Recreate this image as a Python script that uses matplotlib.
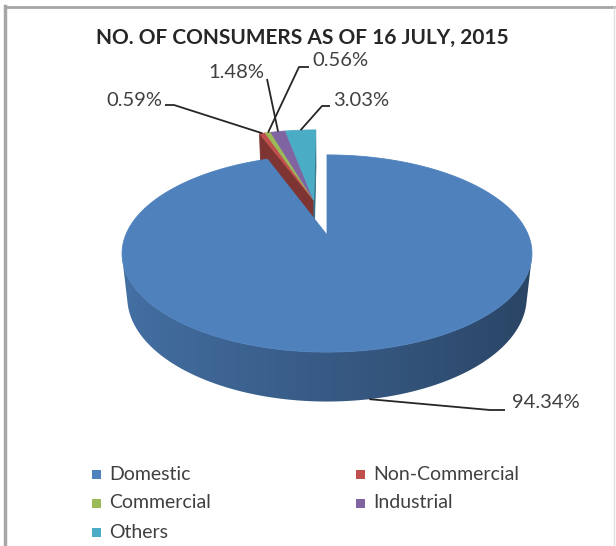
import numpy as np
import matplotlib.pyplot as plt
from matplotlib.patches import Polygon, Rectangle
from matplotlib.colors import to_rgb

plt.rcParams['font.family'] = ['Lato', 'DejaVu Sans']

# =========================
# data
# =========================
categories = ["Domestic", "Non-Commercial", "Commercial", "Industrial", "Others"]
shares = [94.34, 0.59, 0.56, 1.48, 3.03]
colors = ["#4F81BD", "#C0504D", "#9BBB59", "#8064A2", "#4BACC6"]
title = "NO. OF CONSUMERS AS OF 16 JULY, 2015"

# =========================
# 3d view of the pie
# =========================
ELEV = np.radians(28.2)
DIST = 4.695
SCALE = 945.0
CX, CY = 327.0, 235.0
THICK = 0.25
EXPLODE = 0.40
CAM = np.array([0.0, -DIST * np.cos(ELEV), DIST * np.sin(ELEV)])


def project(x, y, z):
    depth = DIST + y * np.cos(ELEV) - z * np.sin(ELEV)
    u = x / depth
    w = (y * np.sin(ELEV) + z * np.cos(ELEV)) / depth
    return CX + SCALE * u, CY - SCALE * w


def facing(p, n):
    return np.dot(n, CAM - p) > 0


def shade(c, f):
    return tuple(np.clip(np.array(to_rgb(c)) * f, 0, 1))


def wall_light(a):
    # light comes from the front left
    return 0.70 - 0.18 * np.cos(a)


# slice angles, clockwise from 12 o'clock
cum = np.concatenate([[0], np.cumsum(shares)]) / sum(shares) * 360
start = 90 - cum[:-1]
end = 90 - cum[1:]
mid = (start + end) / 2

# the small slices are pulled out together
group_mid = np.radians((start[1] + end[-1]) / 2)
offsets = [(0.0, 0.0)] + [(EXPLODE * np.cos(group_mid), EXPLODE * np.sin(group_mid))] * 4
pieces = [[1, 2, 3, 4], [0]]   # far group first

fig = plt.figure(figsize=(6.16, 5.46), dpi=100)
ax = fig.add_axes([0, 0, 1, 1])
ax.axis("off")


def poly(pts, color, z):
    ax.add_patch(Polygon(pts, closed=True, facecolor=color, edgecolor=color,
                         linewidth=0.6, zorder=z))


def arc_of(i):
    n = max(3, int(abs(end[i] - start[i]) * 2))
    return np.radians(np.linspace(start[i], end[i], n))


z = 1
for piece in pieces:
    ox, oy = offsets[piece[0]]

    # curved outer wall, shaded left to right
    for i in piece:
        seen = [a for a in arc_of(i)
                if facing(np.array([ox + np.cos(a), oy + np.sin(a), -THICK / 2]),
                          np.array([np.cos(a), np.sin(a), 0]))]
        if len(seen) < 2:
            continue
        top = [project(ox + np.cos(a), oy + np.sin(a), 0) for a in seen]
        bot = [project(ox + np.cos(a), oy + np.sin(a), -THICK) for a in seen]
        outline = Polygon(top + bot[::-1], closed=True, facecolor="none",
                          edgecolor="none", zorder=z)
        ax.add_patch(outline)
        xs = np.array([p[0] for p in top])
        light = np.array([wall_light(a) for a in seen])
        order = np.argsort(xs)
        x0, x1 = xs.min() - 2, xs.max() + 2
        y0 = min(p[1] for p in top) - 2
        y1 = max(p[1] for p in bot) + 2
        cols = np.linspace(x0, x1, 400)
        f = np.interp(cols, xs[order], light[order])
        img = np.array([shade(colors[i], v) for v in f])[None, :, :].repeat(2, axis=0)
        im = ax.imshow(img, extent=(x0, x1, y1, y0), aspect="auto",
                       interpolation="bilinear", zorder=z)
        im.set_clip_path(outline)
    z += 1

    # flat side walls at both outer edges of the piece
    for i, ang, turn in [(piece[0], start[piece[0]], 90), (piece[-1], end[piece[-1]], -90)]:
        a = np.radians(ang)
        n = np.array([np.cos(a + np.radians(turn)), np.sin(a + np.radians(turn)), 0])
        p = np.array([ox + 0.5 * np.cos(a), oy + 0.5 * np.sin(a), -THICK / 2])
        if not facing(p, n):
            continue
        quad = [project(ox, oy, 0),
                project(ox + np.cos(a), oy + np.sin(a), 0),
                project(ox + np.cos(a), oy + np.sin(a), -THICK),
                project(ox, oy, -THICK)]
        poly(quad, shade(colors[i], 0.65), z)
    z += 1

    # top faces
    for i in piece:
        pts = [project(ox, oy, 0)] + [project(ox + np.cos(a), oy + np.sin(a), 0) for a in arc_of(i)]
        poly(pts, colors[i], z)
    z += 1

# =========================
# data labels with leader lines
# =========================
label_pos = [(512, 402, "left"), (162, 101, "right"), (312, 61, "left"),
             (264, 72, "right"), (333, 101, "left")]
leader_pts = [[(505, 410), (490, 410)], [(165, 105), (174, 105)], [(309, 67), (299, 67)],
              [(267, 79)], [(330, 106), (322, 106)]]

for i, v in enumerate(shares):
    ox, oy = offsets[i]
    a = np.radians(mid[i])
    anchor_z = -THICK if i == 0 else 0
    anchor = project(ox + np.cos(a), oy + np.sin(a), anchor_z)
    path = leader_pts[i] + [anchor]
    ax.plot([p[0] for p in path], [p[1] for p in path], color="#262626",
            linewidth=1.3, zorder=20, solid_capstyle="butt")
    tx, ty, ha = label_pos[i]
    ax.text(tx, ty, f"{v:.2f}%", ha=ha, va="center", fontsize=14.5,
            color="#404040", zorder=21)

ax.text(302, 38, title, ha="center", va="center", fontsize=15,
        fontweight="bold", color="#262626")

# =========================
# legend, two per row
# =========================
for i, name in enumerate(categories):
    row, col = divmod(i, 2)
    x0 = 92 if col == 0 else 356
    y0 = 474 + row * 29
    ax.add_patch(Rectangle((x0, y0 - 4.5), 9, 9, facecolor=colors[i], edgecolor="none"))
    ax.text(x0 + 17, y0, name, ha="left", va="center", fontsize=14, color="#404040")

# frame lines
ax.plot([5, 5], [6, 546], color="#A6A6A6", linewidth=2.5)
ax.plot([5, 616], [7, 7], color="#A6A6A6", linewidth=2)
ax.plot([614, 614], [7, 546], color="#E0E0E0", linewidth=1)

ax.set_xlim(0, 616)
ax.set_ylim(546, 0)
fig.savefig("out.png", dpi=100)
